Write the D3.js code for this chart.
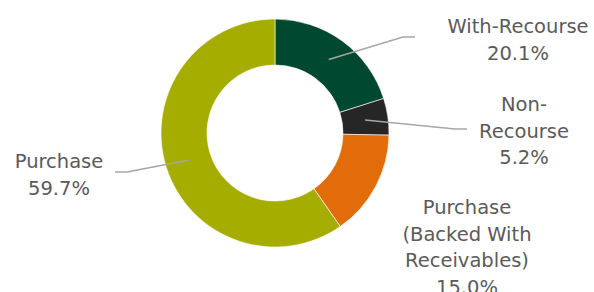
<!DOCTYPE html>
<meta charset="utf-8">
<style>
body { margin: 0; background: white; }
.label { font-family: "DejaVu Sans", sans-serif; font-size: 19.5px; fill: #5a5a5a; }
.leader { fill: none; stroke: #A6A6A6; stroke-width: 1.5px; }
</style>
<svg width="594" height="292"></svg>
<script src="https://d3js.org/d3.v7.min.js"></script>
<script>
// data
var categories = ["With-Recourse", "Non-Recourse", "Purchase (Backed With Receivables)", "Purchase"];
var shares = [20.1, 5.2, 15.0, 59.7];
var colors = ["#00482F", "#262626", "#E36C0A", "#A5AD00"];
// label text lines (as wrapped in the original)
var labelLines = [
  ["With-Recourse"],
  ["Non-", "Recourse"],
  ["Purchase", "(Backed With", "Receivables)"],
  ["Purchase"]
];

var svg = d3.select("svg"),
    cx = 275, cy = 133,
    outerR = 114, innerR = 68,
    lineH = 26.5;

var data = categories.map(function(c, i) {
  return {name: c, value: shares[i], color: colors[i], lines: labelLines[i]};
});

var pie = d3.pie().sort(null).value(function(d) { return d.value; });
var arc = d3.arc().innerRadius(innerR).outerRadius(outerR);

var g = svg.append("g").attr("transform", "translate(" + cx + "," + cy + ")");
var arcs = pie(data);

g.selectAll("path.slice")
    .data(arcs)
  .enter().append("path")
    .attr("class", "slice")
    .attr("d", arc)
    .attr("fill", function(d) { return d.data.color; })
    .attr("stroke", "white")
    .attr("stroke-width", 0.6);

// label placement (relative to donut centre): text centre x, first baseline y, leader end
var labelPos = [
  {x: 243, y: -100, leader: [[128, -96], [140, -96]]},
  {x: 249, y: -22, leader: [[180, -4], [192, -4]]},
  {x: 192, y: 81, leader: null},
  {x: -216, y: 35, leader: [[-148, 39], [-160, 39]]}
];

arcs.forEach(function(a, i) {
  var p = labelPos[i];
  if (p.leader) {
    var c = arc.centroid(a);
    g.append("polyline")
      .attr("class", "leader")
      .attr("points", [c].concat(p.leader).map(function(q) { return q.join(","); }).join(" "));
  }
  var t = g.append("text")
    .attr("class", "label")
    .attr("text-anchor", "middle");
  var lines = a.data.lines.concat([d3.format(".1f")(a.data.value) + "%"]);
  lines.forEach(function(l, j) {
    t.append("tspan")
      .attr("x", p.x)
      .attr("y", p.y + j * lineH)
      .text(l);
  });
});
</script>
